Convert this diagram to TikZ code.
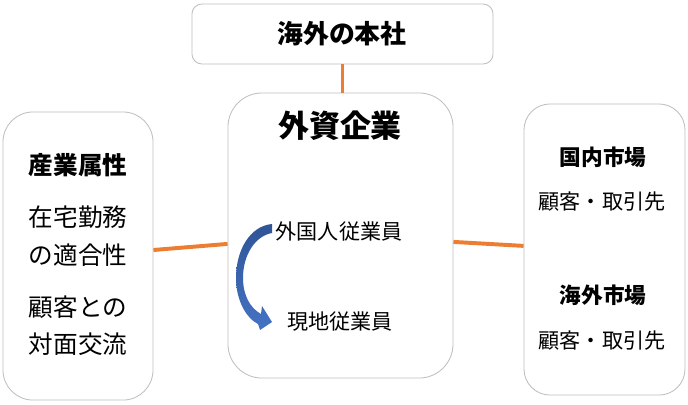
\documentclass[tikz,border=0pt]{standalone}
\usepackage{fontspec}
\setmainfont{Noto Sans CJK JP}
\definecolor{linkorange}{HTML}{ED7D31}
\definecolor{boxgray}{HTML}{BFBFBF}
\definecolor{arrowtop}{HTML}{2F5597}
\definecolor{arrowbot}{HTML}{4472C4}
\begin{document}
\begin{tikzpicture}[x=0.025cm, y=-0.025cm,
  box/.style={draw=boxgray, line width=0.6pt, fill=white, inner sep=0pt},
  link/.style={draw=linkorange, line width=2.8pt},
  txt/.style={inner sep=0pt, font=\fontsize{15pt}{18pt}\selectfont}]
\useasboundingbox (0,0) rectangle (688,404);
\node[box, rounded corners=0.25cm, minimum width=7.525cm, minimum height=1.5cm] (honsha) at (342.5,34) {};
\node[box, rounded corners=0.85cm, minimum width=5.625cm, minimum height=7.125cm] (gaishi) at (340.5,235.5) {};
\node[box, rounded corners=0.75cm, minimum width=3.75cm, minimum height=7.2cm] (zokusei) at (78,256) {};
\node[box, rounded corners=0.65cm, minimum width=4.025cm, minimum height=7.275cm] (shijo) at (604.5,249.5) {};
\draw[link] (honsha.south) -- (honsha.south |- gaishi.north);
\draw[link] ([yshift=0.15cm]zokusei.east) -- ([yshift=-0.21cm]gaishi.west);
\draw[link] ([yshift=-0.16cm]gaishi.east) -- ([yshift=0.09cm]shijo.west);
% texts
\node[txt, font=\fontsize{18.4pt}{22pt}\selectfont\bfseries] (t1) at (342,34) {海外の本社};
\node[txt, font=\fontsize{22pt}{26pt}\selectfont\bfseries] (t2) at (340,126) {外資企業};
\node[txt] (gaikoku) at (339,232) {外国人従業員};
\node[txt] (genchi) at (340,322) {現地従業員};
\node[txt, font=\fontsize{17.5pt}{21pt}\selectfont\bfseries] (z1) at (78,165) {産業属性};
\node[txt, font=\fontsize{17.5pt}{21pt}\selectfont] (z2) at (78,217) {在宅勤務};
\node[txt, font=\fontsize{17.5pt}{21pt}\selectfont] (z3) at (78,255) {の適合性};
\node[txt, font=\fontsize{17.5pt}{21pt}\selectfont] (z4) at (78,307) {顧客との};
\node[txt, font=\fontsize{17.5pt}{21pt}\selectfont] (z5) at (78,344) {対面交流};
\node[txt, font=\fontsize{15.4pt}{18pt}\selectfont\bfseries] (s1) at (603,157) {国内市場};
\node[txt] (s2) at (602,202) {顧客・取引先};
\node[txt, font=\fontsize{15.4pt}{18pt}\selectfont\bfseries] (s3) at (603,295) {海外市場};
\node[txt] (s4) at (602,341) {顧客・取引先};
% curved arrow
\shade[top color=arrowtop, bottom color=arrowbot] (272,224) .. controls (250,226) and (236,250) .. (236,278)
  .. controls (236,300) and (246,318) .. (258,324) -- (260,330) -- (272,322) -- (262,306) -- (261,314)
  .. controls (250,308) and (243,295) .. (243,278) .. controls (243,255) and (255,236) .. (272,233) -- cycle;
\end{tikzpicture}
\end{document}
